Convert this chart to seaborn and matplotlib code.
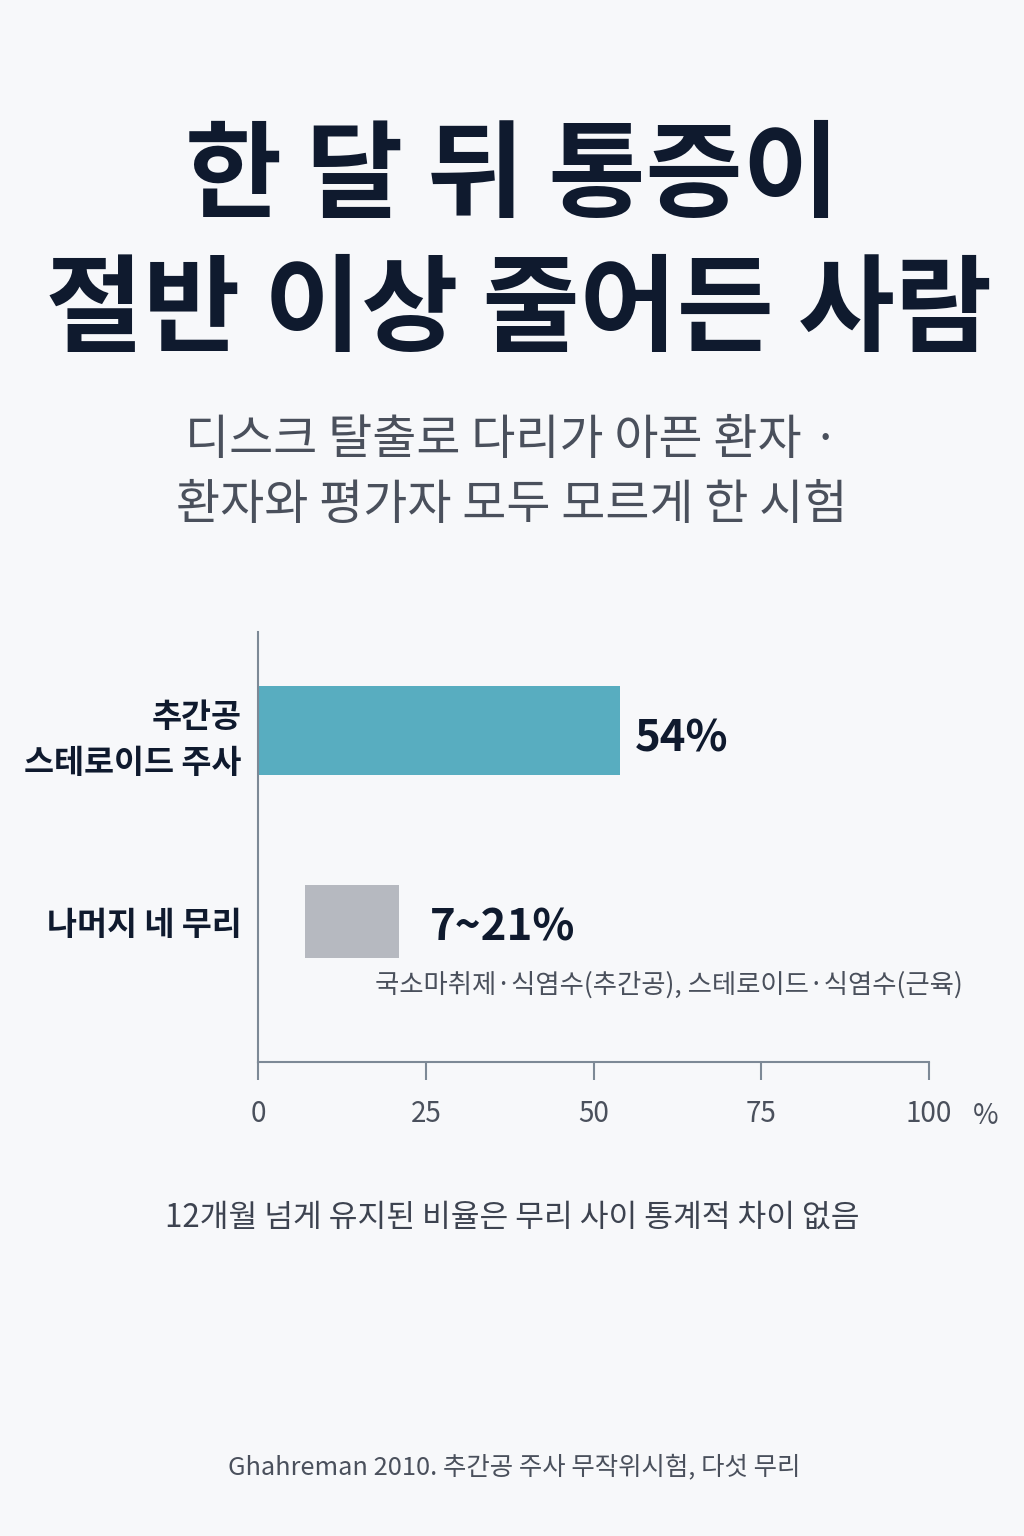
import matplotlib
matplotlib.use("Agg")
import matplotlib.pyplot as plt
import seaborn as sns
import pandas as pd

# ---- data ----
categories = ["추간공\n스테로이드 주사", "나머지 네 무리"]
range_low = [0, 7]
range_high = [54, 21]
value_labels = ["54%", "7~21%"]
bar_colors = ["#58adc0", "#b6b9c0"]
x_ticks = [0, 25, 50, 75, 100]

title_1 = "한 달 뒤 통증이"
title_2 = "절반 이상 줄어든 사람"
subtitle_1 = "디스크 탈출로 다리가 아픈 환자 ·"
subtitle_2 = "환자와 평가자 모두 모르게 한 시험"
note_other = "국소마취제·식염수(추간공), 스테로이드·식염수(근육)"
footnote = "12개월 넘게 유지된 비율은 무리 사이 통계적 차이 없음"
source = "Ghahreman 2010. 추간공 주사 무작위시험, 다섯 무리"

BG = "#f7f8fa"
DARK = "#0f1a2e"
GRAY_TXT = "#4a505c"
AXIS = "#7d8996"

sns.set_theme(style="white")
plt.rcParams["font.family"] = ["Noto Sans CJK KR", "DejaVu Sans"]

fig = plt.figure(figsize=(10.24, 15.36), dpi=100, facecolor=BG)
ax = fig.add_axes([258/1024, 1 - 1062/1536, (929-258)/1024, (1062-632)/1536])
ax.set_facecolor(BG)

df = pd.DataFrame({"cat": categories, "high": range_high})
sns.barplot(data=df, y="cat", x="high", hue="cat", palette=bar_colors,
            orient="h", ax=ax, legend=False, width=0.47, saturation=1)

heights = [0.466, 0.382]
centers = [0, 1]
for p, lo, hi, h, c in zip(ax.patches, range_low, range_high, heights, centers):
    p.set_x(lo)
    p.set_width(hi - lo)
    p.set_y(c - h / 2)
    p.set_height(h)
    p.set_edgecolor("none")

ax.set_xlim(0, 100)
ax.set_ylim(1.733, -0.518)
ax.set_xticks(x_ticks)
ax.set_xticklabels([str(t) for t in x_ticks], fontsize=20, color=GRAY_TXT)
ax.tick_params(axis="x", length=13, width=1.5, color=AXIS, pad=14, bottom=True)
ax.tick_params(axis="y", length=0, pad=12)
ax.set_yticks([0, 1])
ax.set_yticklabels(categories, fontsize=23.5, fontweight="bold", color=DARK,
                   linespacing=1.5)
ax.set_xlabel("")
ax.set_ylabel("")
for s in ["top", "right"]:
    ax.spines[s].set_visible(False)
for s in ["left", "bottom"]:
    ax.spines[s].set_color(AXIS)
    ax.spines[s].set_linewidth(1.5)

# value labels
ax.text(range_high[0] + 2.2, 0.04, value_labels[0], fontsize=31.5, fontweight="bold",
        color=DARK, va="center", ha="left")
ax.text(range_high[1] + 4.6, 1.03, value_labels[1], fontsize=31.5, fontweight="bold",
        color=DARK, va="center", ha="left")
ax.text(17.4, 1.33, note_other, fontsize=19, color=GRAY_TXT, va="center", ha="left")

ax.text(1.085, -0.125, "%", transform=ax.transAxes, fontsize=20, color=GRAY_TXT,
        ha="center", va="center")

# titles
fig.text(0.5, 1 - 178/1536, title_1, fontsize=76, fontweight="black",
         color=DARK, ha="center", va="center")
fig.text(0.507, 1 - 312/1536, title_2, fontsize=76, fontweight="black",
         color=DARK, ha="center", va="center")
fig.text(0.5, 1 - 440/1536, subtitle_1, fontsize=34.5, color=GRAY_TXT,
         ha="center", va="center")
fig.text(0.5, 1 - 505/1536, subtitle_2, fontsize=34.5, color=GRAY_TXT,
         ha="center", va="center")
fig.text(0.5, 1 - 1218/1536, footnote, fontsize=22.5, color="#3d4350",
         ha="center", va="center")
fig.text(0.502, 1 - 1467/1536, source, fontsize=18.3, color=GRAY_TXT,
         ha="center", va="center")

fig.savefig("out.png", dpi=100, facecolor=BG)
